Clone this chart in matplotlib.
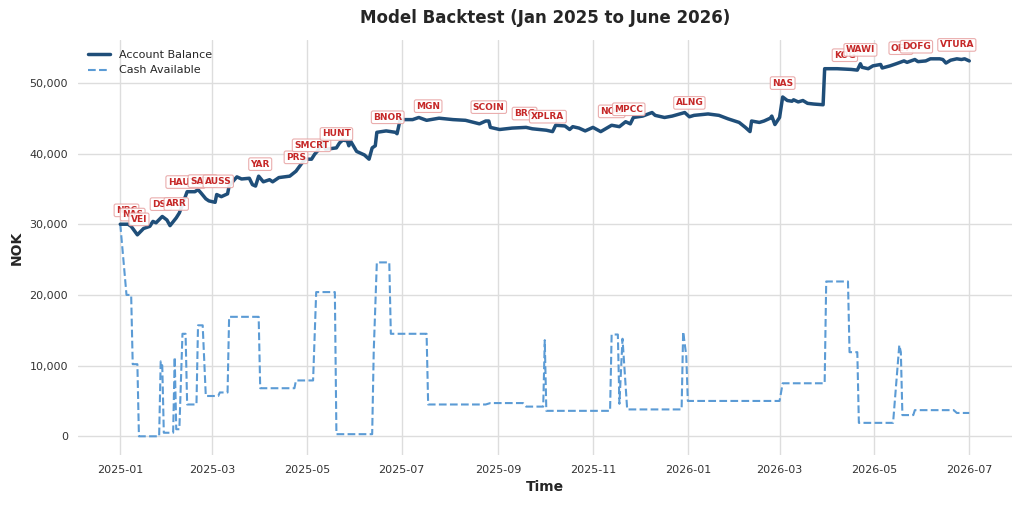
import matplotlib
matplotlib.use("Agg")
import matplotlib.pyplot as plt
import matplotlib.dates as mdates
import matplotlib.ticker as mticker
import numpy as np
import pandas as pd
import seaborn as sns

# account balance (NOK)
balance_dates = [
    "2025-01-01", "2025-01-06", "2025-01-08", "2025-01-12", "2025-01-16", "2025-01-20",
    "2025-01-22", "2025-01-24", "2025-01-28", "2025-01-31", "2025-02-02", "2025-02-06",
    "2025-02-08", "2025-02-10", "2025-02-13", "2025-02-18", "2025-02-20", "2025-02-22",
    "2025-02-25", "2025-02-27", "2025-03-03", "2025-03-04", "2025-03-07", "2025-03-11",
    "2025-03-12", "2025-03-15", "2025-03-17", "2025-03-20", "2025-03-25", "2025-03-27",
    "2025-03-29", "2025-03-31", "2025-04-03", "2025-04-07", "2025-04-09", "2025-04-13",
    "2025-04-20", "2025-04-24", "2025-04-28", "2025-04-30", "2025-05-04", "2025-05-06",
    "2025-05-08", "2025-05-11", "2025-05-13", "2025-05-20", "2025-05-22", "2025-05-24",
    "2025-05-27", "2025-05-28", "2025-05-29", "2025-06-02", "2025-06-04", "2025-06-07",
    "2025-06-10", "2025-06-12", "2025-06-14", "2025-06-15", "2025-06-21", "2025-06-27",
    "2025-06-28", "2025-06-30", "2025-07-08", "2025-07-12", "2025-07-17", "2025-07-25",
    "2025-08-03", "2025-08-11", "2025-08-20", "2025-08-24", "2025-08-26", "2025-08-27",
    "2025-09-02", "2025-09-10", "2025-09-19", "2025-09-23", "2025-10-02", "2025-10-06",
    "2025-10-08", "2025-10-14", "2025-10-17", "2025-10-19", "2025-10-23", "2025-10-27",
    "2025-11-01", "2025-11-06", "2025-11-13", "2025-11-18", "2025-11-22", "2025-11-25",
    "2025-11-27", "2025-12-03", "2025-12-09", "2025-12-11", "2025-12-17", "2025-12-22",
    "2025-12-30", "2026-01-02", "2026-01-05", "2026-01-14", "2026-01-21", "2026-01-27",
    "2026-02-03", "2026-02-07", "2026-02-10", "2026-02-11", "2026-02-16", "2026-02-19",
    "2026-02-23", "2026-02-24", "2026-02-26", "2026-03-01", "2026-03-03", "2026-03-06",
    "2026-03-09", "2026-03-10", "2026-03-13", "2026-03-16", "2026-03-19", "2026-03-23",
    "2026-03-29", "2026-03-30", "2026-04-07", "2026-04-16", "2026-04-20", "2026-04-22",
    "2026-04-23", "2026-04-27", "2026-04-30", "2026-05-05", "2026-05-06", "2026-05-11",
    "2026-05-15", "2026-05-20", "2026-05-22", "2026-05-27", "2026-05-29", "2026-06-03",
    "2026-06-06", "2026-06-12", "2026-06-14", "2026-06-16", "2026-06-19", "2026-06-23",
    "2026-06-26", "2026-06-28", "2026-07-01",
]
balance_values = [
    30000, 30000, 29700, 28500, 29400, 29700,
    30400, 30200, 31100, 30600, 29800, 30900,
    31600, 32800, 34600, 34600, 34900, 34400,
    33600, 33300, 33100, 34200, 33900, 34300,
    35400, 36200, 36700, 36400, 36500, 35600,
    35400, 36800, 36000, 36300, 36000, 36600,
    36800, 37500, 38700, 39200, 39200, 39900,
    40400, 42000, 40600, 40800, 41500, 41900,
    41800, 41100, 41800, 40300, 40100, 39800,
    39200, 40800, 41100, 43000, 43200, 43000,
    42800, 44800, 44800, 45100, 44700, 45000,
    44800, 44700, 44200, 44600, 44600, 43700,
    43400, 43600, 43700, 43500, 43300, 43100,
    44000, 43900, 43400, 43800, 43600, 43200,
    43700, 43100, 44000, 43800, 44500, 44200,
    45100, 45300, 45800, 45400, 45100, 45300,
    45800, 45200, 45400, 45600, 45400, 44900,
    44400, 43700, 43100, 44600, 44400, 44600,
    45000, 45300, 44100, 45100, 48000, 47500,
    47400, 47600, 47300, 47500, 47100, 47000,
    46900, 52000, 52000, 51900, 51800, 52700,
    52200, 52000, 52400, 52600, 52100, 52400,
    52700, 53100, 52900, 53300, 53000, 53100,
    53400, 53400, 53300, 52800, 53200, 53400,
    53300, 53400, 53100,
]

# cash available (NOK)
cash_dates = [
    "2025-01-01", "2025-01-05", "2025-01-08", "2025-01-09", "2025-01-12", "2025-01-13",
    "2025-01-26", "2025-01-27", "2025-01-28", "2025-01-29", "2025-02-04", "2025-02-05",
    "2025-02-06", "2025-02-08", "2025-02-10", "2025-02-12", "2025-02-13", "2025-02-19",
    "2025-02-20", "2025-02-23", "2025-02-25", "2025-03-05", "2025-03-06", "2025-03-11",
    "2025-03-12", "2025-03-31", "2025-04-01", "2025-04-23", "2025-04-24", "2025-05-05",
    "2025-05-07", "2025-05-19", "2025-05-20", "2025-06-12", "2025-06-13", "2025-06-15",
    "2025-06-23", "2025-06-24", "2025-07-17", "2025-07-18", "2025-08-24", "2025-08-27",
    "2025-09-17", "2025-09-19", "2025-09-30", "2025-10-01", "2025-10-02", "2025-11-12",
    "2025-11-13", "2025-11-17", "2025-11-18", "2025-11-20", "2025-11-23", "2025-12-28",
    "2025-12-29", "2025-12-31", "2026-01-01", "2026-03-01", "2026-03-03", "2026-03-30",
    "2026-03-31", "2026-04-14", "2026-04-15", "2026-04-20", "2026-04-21", "2026-05-13",
    "2026-05-17", "2026-05-18", "2026-05-19", "2026-05-26", "2026-05-27", "2026-06-21",
    "2026-06-23", "2026-07-01",
]
cash_values = [
    30000, 20000, 20000, 10200, 10200, 0,
    0, 10600, 10000, 500, 500, 11200,
    1000, 1000, 14500, 14500, 4500, 4500,
    15700, 15700, 5700, 5700, 6200, 6200,
    16900, 16900, 6800, 6800, 7900, 7900,
    20400, 20400, 300, 300, 12000, 24600,
    24600, 14500, 14500, 4500, 4500, 4700,
    4700, 4200, 4200, 13600, 3600, 3600,
    14400, 14400, 4600, 13800, 3800, 3800,
    14800, 11400, 5000, 5000, 7500, 7500,
    21900, 21900, 11900, 11900, 1900, 1900,
    12900, 11900, 3000, 3000, 3700, 3700,
    3300, 3300,
]

# trades marked on the balance line
trade_dates = [
    "2025-01-05", "2025-01-09", "2025-01-13", "2025-01-27", "2025-02-06", "2025-02-12",
    "2025-02-23", "2025-03-05", "2025-04-01", "2025-04-24", "2025-05-04", "2025-05-20",
    "2025-06-22", "2025-07-18", "2025-08-26", "2025-09-18", "2025-10-03", "2025-11-13",
    "2025-11-24", "2026-01-02", "2026-03-03", "2026-04-12", "2026-04-22", "2026-05-18",
    "2026-05-28", "2026-06-23",
]
trade_tickers = [
    "NBC", "NAS", "VEI", "DSI", "ARR", "HAUTO",
    "SATS", "AUSS", "YAR", "PRS", "SMCRT", "HUNT",
    "BNOR", "MGN", "SCOIN", "BRG", "XPLRA", "NOD",
    "MPCC", "ALNG", "NAS", "KOG", "WAWI", "OET",
    "DOFG", "VTURA",
]

sns.set_style("whitegrid")
plt.rcParams["font.family"] = ["DejaVu Sans"]

bal = pd.Series(balance_values, index=pd.to_datetime(balance_dates))
cash = pd.Series(cash_values, index=pd.to_datetime(cash_dates))

fig, ax = plt.subplots(figsize=(10.24, 5.12), dpi=100)
fig.subplots_adjust(left=0.076, right=0.988, top=0.922, bottom=0.111)

ax.plot(bal.index, bal.values, color="#1f4e79", lw=2.5, label="Account Balance", zorder=3)
ax.plot(cash.index, cash.values, color="#5b9bd5", lw=1.5, ls="--", label="Cash Available", zorder=2)

# put each ticker on the balance line at its trade date
bal_num = mdates.date2num(bal.index)
for d, t in zip(pd.to_datetime(trade_dates), trade_tickers):
    xn = mdates.date2num(d)
    yv = np.interp(xn, bal_num, bal.values)
    ax.annotate(t, (d, yv), xytext=(0, 10), textcoords="offset points",
                ha="center", va="center", fontsize=6.5, fontweight="bold",
                color="#c62828", zorder=5,
                bbox=dict(boxstyle="round,pad=0.2", fc="white", ec="#e8a5a5", lw=0.8, alpha=0.9))

ax.set_title("Model Backtest (Jan 2025 to June 2026)", fontsize=12, fontweight="bold", color="#262626", pad=12)
ax.set_xlabel("Time", fontsize=10, fontweight="bold", color="#262626")
ax.set_ylabel("NOK", fontsize=10, fontweight="bold", color="#262626")

ax.xaxis.set_major_locator(mdates.MonthLocator(bymonth=[1, 3, 5, 7, 9, 11]))
ax.xaxis.set_major_formatter(mdates.DateFormatter("%Y-%m"))
ax.yaxis.set_major_formatter(mticker.FuncFormatter(lambda v, p: f"{int(v):,}"))
ax.tick_params(labelsize=8, colors="#333333")
ax.grid(color="#dddddd", lw=1)
for s in ax.spines.values():
    s.set_visible(False)

ax.legend(loc="upper left", frameon=False, fontsize=8)

fig.savefig("out.png", dpi=100)
